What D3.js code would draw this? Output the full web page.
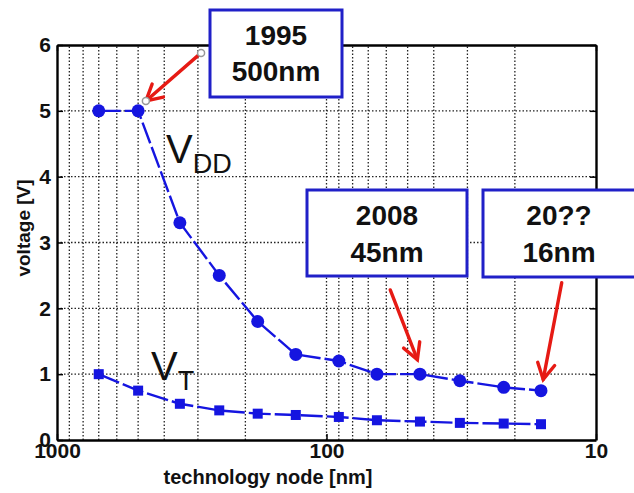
<!DOCTYPE html>
<html>
<head>
<meta charset="utf-8">
<script src="https://cdn.jsdelivr.net/npm/d3@7"></script>
<style>
body{margin:0;background:#fff;}
svg{display:block;font-family:"Liberation Sans",Arial,sans-serif;}
</style>
</head>
<body>
<div id="chart"></div>
<script>
// technology node [nm] and voltages
const nodes = [700, 500, 350, 250, 180, 130, 90, 65, 45, 32, 22, 16];
const vdd = [5, 5, 3.3, 2.5, 1.8, 1.3, 1.2, 1.0, 1.0, 0.9, 0.8, 0.75];
const vt = [1.0, 0.75, 0.55, 0.45, 0.4, 0.38, 0.35, 0.3, 0.28, 0.26, 0.25, 0.24];
const xTicks = [1000, 100, 10];
const yTicks = [0, 1, 2, 3, 4, 5, 6];
const xGrid = [900,800,700,600,500,400,300,200,100,90,80,70,60,50,40,30,20];

const W = 634, H = 493;
const blue = "#1515e0", boxBlue = "#2020c8", red = "#e61a14";

let svg = d3.select("#chart").append("svg").attr("width", W).attr("height", H);

let x = d3.scaleLog().domain([1000, 10]).range([57, 596]);
let y = d3.scaleLinear().domain([0, 6]).range([440, 45]);

/* grid */
let grid = svg.append("g").attr("stroke", "#222").attr("stroke-width", 1.3).attr("stroke-dasharray", "1.5,2");
grid.selectAll(".gx").data(xGrid).enter().append("line")
  .attr("x1", d => x(d)).attr("x2", d => x(d)).attr("y1", y(0)).attr("y2", y(6));
grid.selectAll(".gy").data(yTicks.slice(1, -1)).enter().append("line")
  .attr("x1", x(1000)).attr("x2", x(10)).attr("y1", d => y(d)).attr("y2", d => y(d));

/* axes */
let axX = d3.axisBottom(x).tickValues(xTicks).tickFormat(d3.format("d")).tickSizeInner(-6).tickSizeOuter(0).tickPadding(3);
let axY = d3.axisLeft(y).tickValues(yTicks).tickFormat(d3.format("d")).tickSizeInner(-6).tickSizeOuter(0).tickPadding(6);
let axYr = d3.axisRight(y).tickValues(yTicks).tickSizeInner(-6).tickSizeOuter(0).tickFormat("");
let axXt = d3.axisTop(x).tickValues(xTicks).tickSizeInner(-6).tickSizeOuter(0).tickFormat("");

svg.append("g").attr("transform", "translate(0," + y(0) + ")").call(axX);
svg.append("g").attr("transform", "translate(" + x(1000) + ",0)").call(axY);
svg.append("g").attr("transform", "translate(" + x(10) + ",0)").call(axYr);
svg.append("g").attr("transform", "translate(0," + y(6) + ")").call(axXt);
svg.selectAll(".domain").attr("stroke", "#000").attr("stroke-width", 2.4);
svg.selectAll(".tick line").attr("stroke", "#000").attr("stroke-width", 1.5);
svg.selectAll(".tick text").attr("font-size", 21).attr("font-weight", "bold").attr("fill", "#111")
  .attr("font-family", "'Liberation Sans',Arial,sans-serif");

svg.append("text").attr("x", 268).attr("y", 484).attr("text-anchor", "middle")
  .attr("font-size", 20).attr("font-weight", "bold").attr("fill", "#111").text("technology node [nm]");
svg.append("text").attr("transform", "translate(30,228) rotate(-90)").attr("text-anchor", "middle")
  .attr("font-size", 19).attr("font-weight", "bold").attr("fill", "#111").text("voltage [V]");

/* series */
let line = d3.line().x(d => x(d[0])).y(d => y(d[1]));
let vddPts = nodes.map((n, i) => [n, vdd[i]]);
let vtPts = nodes.map((n, i) => [n, vt[i]]);

[vddPts, vtPts].forEach(pts => {
  svg.append("path").datum(pts).attr("d", line).attr("fill", "none")
    .attr("stroke", blue).attr("stroke-width", 2.4).attr("stroke-dasharray", "22,4");
});
svg.selectAll(".mv").data(vddPts).enter().append("circle")
  .attr("cx", d => x(d[0])).attr("cy", d => y(d[1])).attr("r", 6.5).attr("fill", blue);
svg.selectAll(".mt").data(vtPts).enter().append("rect")
  .attr("x", d => x(d[0]) - 5).attr("y", d => y(d[1]) - 5).attr("width", 10).attr("height", 10).attr("fill", blue);

/* V labels */
let vdl = svg.append("text").attr("x", 166).attr("y", 163).attr("font-size", 40).attr("fill", "#111");
vdl.append("tspan").text("V");
vdl.append("tspan").attr("font-size", 27).attr("dy", 10).text("DD");
let vtl = svg.append("text").attr("x", 151).attr("y", 380).attr("font-size", 40).attr("fill", "#111");
vtl.append("tspan").text("V");
vtl.append("tspan").attr("font-size", 27).attr("dy", 10).text("T");

/* arrows, in data coordinates: [tail, head] */
const arrows = [
  [[292, 5.88], [468, 5.15]],
  [[58, 2.28], [46, 1.22]],
  [[13.4, 2.39], [15.7, 0.92]]
];
arrows.forEach((a, i) => {
  let x1 = x(a[0][0]), y1 = y(a[0][1]), x2 = x(a[1][0]), y2 = y(a[1][1]);
  let ang = Math.atan2(y2 - y1, x2 - x1), L = 18;
  let g = svg.append("g").attr("stroke", red).attr("stroke-width", 3.4).attr("fill", "none").attr("stroke-linecap", "round");
  g.append("line").attr("x1", x1).attr("y1", y1).attr("x2", x2).attr("y2", y2);
  g.append("polyline").attr("points", [
    [x2 - L * Math.cos(ang - 0.5), y2 - L * Math.sin(ang - 0.5)],
    [x2, y2],
    [x2 - L * Math.cos(ang + 0.5), y2 - L * Math.sin(ang + 0.5)]
  ].map(p => p.join(",")).join(" "));
  if (i === 0) {
    [[x1, y1], [x2, y2]].forEach(p => svg.append("circle").attr("cx", p[0]).attr("cy", p[1]).attr("r", 3.5)
      .attr("fill", "#fff").attr("stroke", "#999").attr("stroke-width", 1.5));
  }
});

/* annotation boxes */
const boxes = [
  {x0: 210, y0: 10, x1: 342, y1: 97, l1: "1995", l2: "500nm", cx: 276, b1: 45, b2: 81},
  {x0: 307, y0: 190, x1: 467, y1: 276, l1: "2008", l2: "45nm", cx: 387, b1: 225, b2: 262},
  {x0: 483, y0: 190, x1: 645, y1: 277, l1: "20??", l2: "16nm", cx: 559, b1: 225, b2: 262}
];
boxes.forEach(b => {
  svg.append("rect").attr("x", b.x0).attr("y", b.y0).attr("width", b.x1 - b.x0).attr("height", b.y1 - b.y0)
    .attr("fill", "#fff").attr("stroke", boxBlue).attr("stroke-width", 3);
  svg.append("text").attr("x", b.cx).attr("y", b.b1).attr("text-anchor", "middle")
    .attr("font-size", 28).attr("font-weight", "bold").attr("fill", "#111").text(b.l1);
  svg.append("text").attr("x", b.cx).attr("y", b.b2).attr("text-anchor", "middle")
    .attr("font-size", 28).attr("font-weight", "bold").attr("fill", "#111").text(b.l2);
});
</script>
</body>
</html>
